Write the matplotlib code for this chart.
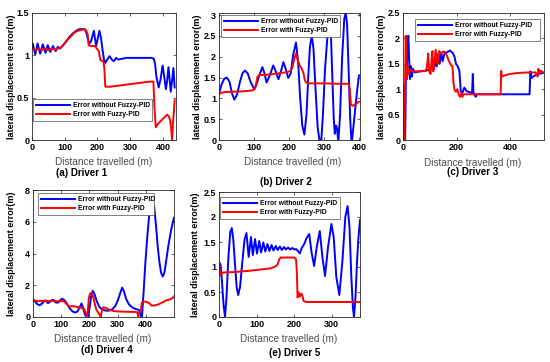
import matplotlib
matplotlib.use("Agg")
import matplotlib.pyplot as plt
from matplotlib.ticker import FuncFormatter

plt.rcParams['font.family'] = ['Liberation Sans', 'DejaVu Sans']
plt.rcParams['font.weight'] = 'bold'

W, H = 550, 362

# ---------------- data (x in m, y in m) ----------------
a_blue = [(0,1.10),(2,1.14),(10,1.01),(17,1.14),(25,1.02),(33,1.13),(41,1.03),(48,1.12),(56,1.04),
          (64,1.11),(72,1.05),(79,1.10),(86,1.08),(95,1.12),(105,1.17),(115,1.22),(125,1.26),(135,1.29),
          (145,1.31),(155,1.31),(161,1.31),(166,1.27),(170,1.20),(175,1.14),(180,1.16),(189,1.29),(196,1.11),
          (201,1.20),(206,1.29),(211,1.20),(215,1.08),(220,0.95),(224,0.91),(230,0.95),(237,0.99),(244,0.95),
          (250,0.93),(257,0.97),(264,0.95),(275,0.96),(290,0.97),(310,0.97),(330,0.97),(350,0.97),(365,0.97),
          (372,0.96),(376,0.90),(380,0.75),(387,0.62),(393,0.72),(399,0.88),(404,0.75),(409,0.60),(413,0.70),
          (417,0.86),(421,0.70),(424,0.57),(428,0.70),(432,0.85),(436,0.62)]
a_red = [(0,1.08),(10,1.06),(20,1.08),(30,1.06),(40,1.08),(50,1.06),(60,1.08),(70,1.07),(80,1.08),(90,1.10),
         (100,1.14),(110,1.19),(120,1.23),(130,1.27),(140,1.29),(150,1.30),(160,1.31),(166,1.29),(170,1.25),
         (173,1.12),(180,1.11),(192,1.11),(198,1.08),(204,1.05),(207,0.98),(210,0.94),(218,0.93),(221,0.85),
         (224,0.63),(240,0.63),(260,0.64),(280,0.65),(300,0.66),(320,0.67),(340,0.68),(360,0.69),(371,0.69),
         (374,0.40),(378,0.15),(385,0.19),(395,0.23),(405,0.27),(413,0.30),(418,0.28),(423,0.22),(426,0.10),
         (428,0.0),(431,0.20),(436,0.47)]

b_blue = [(0,1.12),(8,1.35),(15,1.47),(22,1.50),(30,1.40),(37,1.12),(44,0.97),(52,1.10),(60,1.40),(67,1.60),
          (74,1.67),(82,1.60),(90,1.40),(100,1.23),(106,1.30),(115,1.55),(124,1.75),(130,1.60),(136,1.38),
          (145,1.55),(155,1.79),(162,1.65),(170,1.46),(177,1.65),(184,1.87),(191,1.70),(198,1.49),(205,1.60),
          (212,2.05),(220,2.34),(226,1.90),(232,1.00),(238,0.35),(244,0.13),(250,0.60),(255,1.50),(260,2.25),
          (265,2.50),(270,2.20),(276,1.20),(282,0.30),(288,-0.05),(292,-0.05),(297,0.60),(303,1.70),(310,2.50),
          (316,2.78),(320,2.50),(324,1.50),(328,0.50),(331,0.15),(334,0.35),(337,0.30),(341,-0.05),(346,0.60),
          (352,2.00),(358,2.90),(362,3.06),(366,2.80),(370,1.80),(375,0.50),(379,-0.10),(384,0.30),(390,0.80),
          (395,1.20),(400,1.55)]
b_red = [(0,1.10),(5,1.13),(15,1.15),(40,1.16),(70,1.17),(95,1.19),(102,1.22),(106,1.35),(110,1.52),(115,1.56),
         (140,1.57),(170,1.60),(195,1.63),(205,1.66),(210,1.75),(215,1.95),(220,2.08),(224,1.95),(230,1.80),
         (236,1.72),(241,1.62),(245,1.45),(249,1.38),(260,1.36),(300,1.36),(340,1.35),(371,1.35),(374,1.20),
         (377,0.85),(382,0.82),(390,0.86),(400,0.92)]

c_blue = [(5,0.0),(8,0.0),(10,0.8),(12,2.05),(14,1.2),(17,1.9),(20,2.05),(23,1.6),(26,1.2),(30,1.45),(33,1.25),
          (37,1.40),(45,1.33),(60,1.35),(80,1.36),(95,1.38),(105,1.42),(112,1.55),(116,1.40),(122,1.62),
          (126,1.45),(132,1.70),(137,1.50),(143,1.72),(148,1.55),(155,1.70),(162,1.72),(175,1.76),(185,1.72),
          (192,1.65),(198,1.50),(205,1.45),(211,1.35),(216,0.95),(222,0.93),(229,1.03),(238,0.96),(250,0.94),
          (258,0.92),(261,1.30),(263,0.95),(268,0.88),(272,0.85),(275,0.90),(300,0.90),(400,0.90),(473,0.90),
          (476,1.35),(480,1.22),(490,1.26),(505,1.30),(525,1.32)]
c_red = [(0,1.07),(3,0.4),(5,0.0),(7,0.8),(10,2.05),(13,1.6),(15,1.2),(18,1.45),(22,1.30),(28,1.38),(40,1.35),
         (60,1.35),(85,1.36),(90,1.45),(94,1.70),(98,1.35),(103,1.30),(107,1.60),(110,1.75),(113,1.35),(118,1.55),
         (122,1.78),(126,1.55),(130,1.50),(135,1.75),(142,1.70),(150,1.74),(158,1.73),(165,1.65),(172,1.55),
         (180,1.47),(185,1.45),(189,1.10),(193,0.98),(198,0.95),(203,1.00),(208,0.90),(213,0.85),(218,0.92),
         (222,0.85),(226,0.90),(260,0.90),(300,0.90),(340,0.90),(365,0.90),(367,1.36),(369,1.25),(380,1.27),
         (400,1.30),(430,1.32),(470,1.33),(495,1.33),(500,1.30),(503,1.25),(506,1.40),(510,1.32),(515,1.36),
         (525,1.33)]

d_blue = [(0,1.12),(8,0.95),(16,0.80),(24,0.74),(32,0.85),(40,1.00),(45,1.05),(52,0.88),(58,0.92),(65,1.05),
          (72,1.08),(80,0.92),(88,0.90),(96,1.05),(104,1.15),(112,1.05),(120,0.85),(130,0.55),(140,0.35),
          (150,0.28),(158,0.35),(165,0.60),(172,0.85),(178,0.55),(184,0.15),(190,0.0),(195,-0.1),(200,0.5),
          (206,1.3),(212,1.65),(218,1.45),(226,1.0),(235,0.65),(245,0.48),(258,0.40),(270,0.40),(282,0.50),
          (292,0.70),(302,1.10),(310,1.55),(316,1.85),(322,1.65),(330,1.15),(340,0.80),(352,0.60),(365,0.50),
          (375,0.45),(380,0.30),(383,0.0),(386,-0.1),(392,1.5),(398,3.3),(405,5.0),(412,6.4),(418,7.1),
          (424,7.3),(430,6.9),(436,5.8),(442,4.5),(448,3.5),(454,2.8),(460,2.55),(466,2.8),(472,3.5),
          (480,4.5),(490,5.5),(500,6.25)]
d_red = [(0,1.05),(15,1.0),(30,1.02),(50,1.0),(70,1.02),(90,0.98),(105,1.0),(112,0.95),(120,0.80),(128,0.65),
         (140,0.68),(150,0.66),(160,0.62),(172,0.58),(182,0.50),(187,0.2),(190,0.0),(194,0.3),(198,1.2),
         (203,1.50),(208,1.45),(213,1.30),(218,0.9),(224,0.50),(230,0.30),(236,0.15),(240,0.0),(244,0.35),
         (250,0.62),(260,0.55),(272,0.45),(285,0.38),(300,0.35),(330,0.33),(360,0.32),(370,0.30),(373,0.0),
         (377,0.30),(382,0.35),(386,0.90),(392,0.98),(402,0.95),(412,0.88),(420,0.72),(430,0.72),(445,0.80),
         (460,0.92),(472,1.05),(485,1.10),(495,1.20),(500,1.30)]

e_blue = [(0,1.10),(4,1.05),(8,0.70),(12,0.25),(16,0.0),(20,0.4),(25,1.2),(30,1.70),(34,1.78),(38,1.55),
          (43,1.0),(47,0.6),(51,0.44),(56,0.6),(62,1.1),(68,1.55),(73,1.68),(79,1.20),(85,1.60),(90,1.24),
          (96,1.56),(101,1.27),(107,1.52),(112,1.29),(118,1.49),(123,1.31),(129,1.46),(134,1.32),(140,1.44),
          (145,1.33),(151,1.42),(156,1.34),(162,1.41),(167,1.34),(173,1.40),(178,1.35),(184,1.39),(189,1.35),
          (195,1.38),(200,1.35),(205,1.36),(210,1.32),(215,1.27),(220,1.38),(226,1.45),(233,1.58),(240,1.66),
          (246,1.30),(253,1.02),(260,1.40),(268,1.72),(275,1.20),(282,0.82),(290,1.40),(299,1.86),(305,1.60),
          (312,0.80),(320,0.44),(328,1.10),(336,2.00),(342,2.22),(347,1.80),(352,0.80),(356,0.20),(359,0.0),
          (363,0.40),(367,1.10),(371,1.60),(375,1.94)]
e_red = [(0,1.09),(3,0.84),(11,0.89),(40,0.90),(75,0.92),(110,0.95),(135,0.97),(150,1.01),(156,1.05),
         (160,1.15),(164,1.19),(185,1.19),(200,1.19),(205,1.15),(207,0.90),(209,0.39),(212,0.49),(215,0.41),
         (219,0.47),(222,0.42),(225,0.32),(232,0.30),(280,0.30),(330,0.30),(375,0.30)]

labels = ['Error without Fuzzy-PID', 'Error with Fuzzy-PID']
captions = ['(a) Driver 1', '(b) Driver 2', '(c) Driver 3', '(d) Driver 4', '(e) Driver 5']
xlims = [(0, 440), (0, 403), (0, 527), (0, 500), (0, 375)]
ylims = [(0, 1.5), (0, 3.05), (0, 2.5), (0, 8), (0, 2.5)]
xticks = [[0, 100, 200, 300, 400], [0, 100, 200, 300, 400], [0, 200, 400],
          [0, 100, 200, 300, 400], [0, 100, 200, 300]]
yticks = [[0, 0.5, 1, 1.5], [0, 0.5, 1, 1.5, 2, 2.5, 3], [0, 0.5, 1, 1.5, 2, 2.5],
          [0, 2, 4, 6, 8], [0, 0.5, 1, 1.5, 2, 2.5]]
series = [(a_blue, a_red), (b_blue, b_red), (c_blue, c_red), (d_blue, d_red), (e_blue, e_red)]

# ---------------- layout (pixels) ----------------
ax_px = [(32, 13, 176, 140), (219, 13, 360, 140), (403, 13, 544, 140),
         (33, 190, 174, 317), (219, 192, 360, 317)]
leg_px = [(33, 99, 152), (221, 15, 340), (415, 19, 540), (38, 193, 154), (220, 197, 340)]
xlab_px = [(104, 162), (293, 162), (473, 163), (103, 339), (289, 339)]
cap_px = [(82, 173), (286, 182), (473, 172), (107, 350), (295, 353)]
ylab_x = [12, 198, 382, 12, 195]

fig = plt.figure(figsize=(W / 100, H / 100), dpi=100)
fmt = FuncFormatter(lambda v, p: f'{v:g}')
axcol = '0.15'

for i in range(5):
    l, t, r, b = ax_px[i]
    ax = fig.add_axes([l / W, 1 - b / H, (r - l) / W, (b - t) / H])
    blue, red = series[i]
    bx, by = zip(*blue)
    rx, ry = zip(*red)
    ax.plot(bx, by, color='#0000ff', lw=1.4, label=labels[0])
    ax.plot(rx, ry, color='#ff0000', lw=1.4, label=labels[1])
    ax.set_xlim(*xlims[i])
    ax.set_ylim(*ylims[i])
    ax.set_xticks(xticks[i])
    ax.set_yticks(yticks[i])
    ax.xaxis.set_major_formatter(fmt)
    ax.yaxis.set_major_formatter(fmt)
    ax.tick_params(direction='in', top=True, right=True, length=2.5, width=0.5,
                   labelsize=6.5, pad=2, colors=axcol, labelcolor='black')
    for s in ax.spines.values():
        s.set_color(axcol)
        s.set_linewidth(0.6)
    ll, lt, lr = leg_px[i]
    leg = ax.legend(loc='upper left', bbox_to_anchor=(ll / W, 1 - lt / H - 0.06, (lr - ll) / W, 0.06),
                    bbox_transform=fig.transFigure, mode='expand', borderaxespad=0,
                    fontsize=4.9, handlelength=5.0, handletextpad=0.4, borderpad=0.45,
                    labelspacing=0.3, fancybox=False, framealpha=1, edgecolor='0.3')
    leg.get_frame().set_linewidth(0.5)
    for ln in leg.get_lines():
        ln.set_linewidth(1.4)
    xx, xy = xlab_px[i]
    fig.text(xx / W, 1 - xy / H, 'Distance travelled (m)', ha='center', va='center',
             fontsize=7.2, fontweight='normal', color='0.3')
    cx, cy = cap_px[i]
    fig.text(cx / W, 1 - cy / H, captions[i], ha='center', va='center', fontsize=7,
             fontweight='bold', color='black')
    fig.text(ylab_x[i] / W, 1 - (t + b) / 2 / H, 'lateral displacement error(m)', ha='center',
             va='center', rotation=90, fontsize=6.5, fontweight='bold', color='black')

fig.savefig('out.png', dpi=100)
